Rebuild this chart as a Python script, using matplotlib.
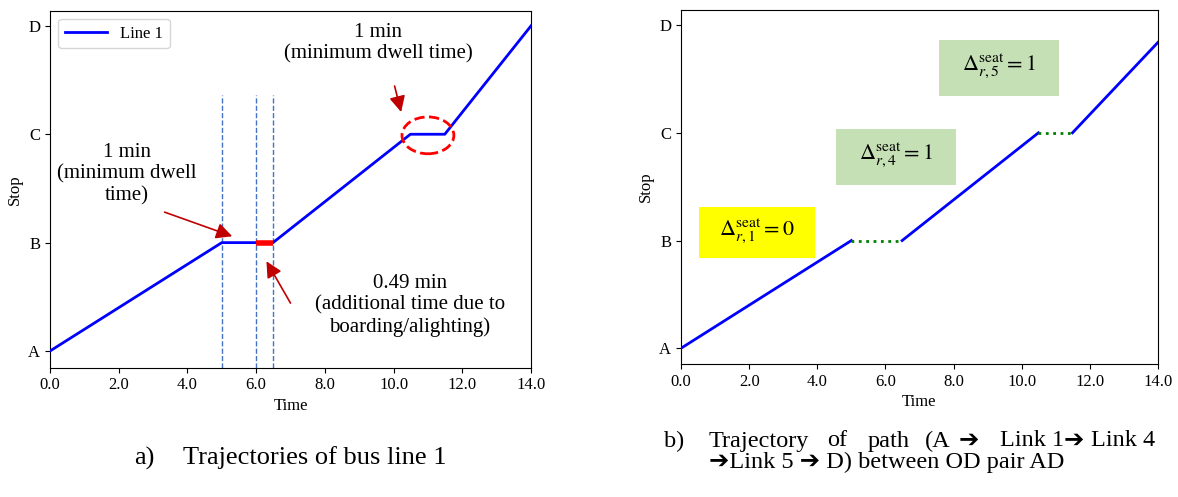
import matplotlib.pyplot as plt
import matplotlib.patches as patches

plt.rcParams['font.family'] = ['Liberation Serif', 'DejaVu Sans']
plt.rcParams['mathtext.fontset'] = 'stix'

# ---- data ----
stops = ['A', 'B', 'C', 'D']
stop_pos = [0, 1, 2, 3]
xticks = [0, 2, 4, 6, 8, 10, 12, 14]

# bus line 1 trajectory (time, stop)
line1_t = [0.0, 5.0, 6.49, 10.49, 11.49, 14.0]
line1_s = [0.0, 1.0, 1.0, 2.0, 2.0, 3.0]
extra_t = [6.0, 6.49]          # additional boarding/alighting time at B
extra_s = [1.0, 1.0]
vline_t = [5.0, 6.0, 6.49]

# path trajectory, split into riding and dwelling parts
ride_segs = [([0.0, 5.0], [0.0, 1.0]),
             ([6.49, 10.49], [1.0, 2.0]),
             ([11.49, 14.0], [2.0, 2.84])]
dwell_segs = [([5.0, 6.49], [1.0, 1.0]),
              ([10.49, 11.49], [2.0, 2.0])]

seat_labels = [r'$\Delta_{r,1}^{\mathrm{seat}}=0$',
               r'$\Delta_{r,4}^{\mathrm{seat}}=1$',
               r'$\Delta_{r,5}^{\mathrm{seat}}=1$']
seat_colors = ['#FFFF00', '#C5E0B4', '#C5E0B4']
# box extents in data units: (x0, x1, y0, y1)
seat_boxes = [(0.52, 3.93, 0.84, 1.31),
              (4.54, 8.07, 1.52, 2.04),
              (7.56, 11.08, 2.34, 2.86)]

fig = plt.figure(figsize=(11.78, 4.97), dpi=100)
W, H = 1178, 497

def px_axes(x0, y0, x1, y1):
    return fig.add_axes([x0 / W, 1 - y1 / H, (x1 - x0) / W, (y1 - y0) / H])

def style_axes(ax, ylim):
    ax.set_xlim(0, 14)
    ax.set_ylim(*ylim)
    ax.set_xticks(xticks)
    ax.set_xticklabels(['%.1f' % v for v in xticks])
    ax.set_yticks(stop_pos)
    ax.set_yticklabels(stops)
    ax.tick_params(labelsize=12)
    ax.set_xlabel('Time', fontsize=12, labelpad=3)
    ax.set_ylabel('Stop', fontsize=12)

# ================= a) =================
ax1 = px_axes(50, 10.7, 531, 367.7)
style_axes(ax1, (-0.154, 3.14))
for t in vline_t:
    ax1.axvline(t, ymin=0, ymax=0.764, color='#4472C4', ls='--', lw=1)
ax1.plot(line1_t, line1_s, color='blue', lw=2, label='Line 1', zorder=3)
ax1.plot(extra_t, extra_s, color='red', lw=4, solid_capstyle='butt', zorder=4)
ax1.legend(loc='upper left', fontsize=12, handlelength=2.5)

arr = dict(arrowstyle='-|>', color='#C00000', lw=1.2, mutation_scale=24)
ax1.annotate('', xy=(5.38, 1.05), xytext=(3.26, 1.29), arrowprops=arr)
ax1.annotate('', xy=(6.26, 0.85), xytext=(7.04, 0.42), arrowprops=arr)
ax1.annotate('', xy=(10.24, 2.18), xytext=(10.01, 2.47), arrowprops=arr)

note = dict(ha='center', va='center', fontsize=15, linespacing=1.15)
ax1.text(2.24, 1.63, '1 min\n(minimum dwell\ntime)', **note)
ax1.text(9.55, 2.84, '1 min\n(minimum dwell time)', **note)
ax1.text(10.48, 0.42, '0.49 min\n(additional time due to\nboarding/alighting)', **note)
ax1.add_patch(patches.Ellipse((11.0, 1.99), 1.51, 0.34, fill=False,
                              ec='red', ls='--', lw=2, zorder=5))

# ================= b) =================
ax2 = px_axes(681, 10, 1158, 364)
style_axes(ax2, (-0.146, 3.14))
for xs, ys in ride_segs:
    ax2.plot(xs, ys, color='blue', lw=2, zorder=3)
for xs, ys in dwell_segs:
    ax2.plot(xs, ys, color='green', lw=2, ls=':', zorder=3)
for (x0, x1, y0, y1), c, lab in zip(seat_boxes, seat_colors, seat_labels):
    ax2.add_patch(patches.Rectangle((x0, y0), x1 - x0, y1 - y0, fc=c, ec='none', zorder=1))
    ax2.text((x0 + x1) / 2, (y0 + y1) / 2 + 0.02, lab, ha='center', va='center',
             fontsize=16, zorder=2)

# ================= captions =================
fam = ['Liberation Serif', 'DejaVu Sans']
cap_a = dict(fontsize=19, va='center', family=fam)
cap_b = dict(fontsize=17.5, va='center', family=fam)
fig.text(134 / W, 1 - 458 / H, 'a)', **cap_a)
fig.text(183 / W, 1 - 458 / H, 'Trajectories of bus line 1', **cap_a)
fig.text(664 / W, 1 - 441 / H, 'b)', **cap_b)
# justified first line, placed word by word
line1_words = ['Trajectory', 'of', 'path', '(A', '\u2794', 'Link 1', '\u2794', 'Link 4']
line1_x = [709, 827, 868, 925, 959, 1000, 1064, 1091]
for wx, word in zip(line1_x, line1_words):
    fig.text(wx / W, 1 - 441 / H, word, **cap_b)
fig.text(709 / W, 1 - 462 / H, '\u2794Link 5 \u2794 D) between OD pair AD', **cap_b)

fig.savefig('out.png', dpi=100)
